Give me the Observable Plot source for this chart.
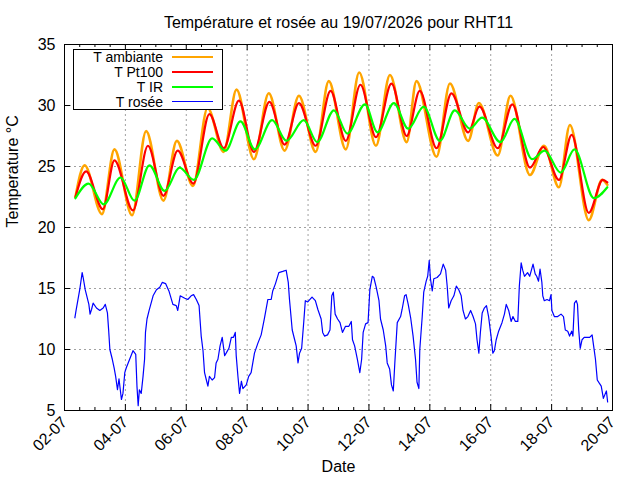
<!DOCTYPE html>
<html>
<head>
<meta charset="utf-8">
<script src="https://cdn.jsdelivr.net/npm/d3@7"></script>
<script src="https://cdn.jsdelivr.net/npm/@observablehq/plot@0.6"></script>
<style>
  body { margin: 0; background: #fff; }
  #wrap { position: relative; width: 640px; height: 480px; font-family: "Liberation Sans", Arial, sans-serif; }
  #legend { position: absolute; left: 73px; top: 49px; width: 148px; height: 59px; border: 1px solid #000; background: #fff; }
  .row { position: absolute; left: 0; height: 15px; width: 148px; }
  .row span { position: absolute; right: 59px; top: 0px; font-size: 14px; line-height: 15px; height: 15px; white-space: nowrap; color: #000; }
  .row i { position: absolute; left: 98px; width: 41px; top: 6px; }
</style>
</head>
<body>
<div id="wrap"></div>
<script>
// Day-of-month (July 2026, fractional) and temperature in °C
const tAmbiante = [[2.36,22.5],[2.66,25.1],[3.23,21.1],[3.64,26.4],[4.22,21.0],[4.68,27.9],[5.25,22.2],[5.69,27.1],[6.22,23.4],[6.70,29.8],[7.23,26.2],[7.65,31.3],[8.22,25.6],[8.71,31.0],[9.23,26.3],[9.70,30.8],[10.25,26.2],[10.68,32.0],[11.24,26.4],[11.68,32.7],[12.23,26.7],[12.69,32.5],[13.24,27.0],[13.56,32.0],[14.22,25.8],[14.66,31.8],[15.26,27.1],[15.61,30.2],[16.23,25.9],[16.65,30.8],[17.29,24.3],[17.75,26.7],[18.24,23.3],[18.60,28.4],[19.22,20.6],[19.66,23.9],[19.83,23.5]];
const tPt100 = [[2.36,22.5],[2.71,24.6],[3.26,21.5],[3.64,25.5],[4.25,21.4],[4.74,26.7],[5.25,22.6],[5.72,26.3],[6.23,23.6],[6.76,29.3],[7.23,26.5],[7.73,30.4],[8.22,26.2],[8.73,30.3],[9.23,26.8],[9.70,30.2],[10.25,26.7],[10.74,31.2],[11.24,27.1],[11.72,31.7],[12.23,27.4],[12.74,31.8],[13.24,27.5],[13.67,31.2],[14.22,26.5],[14.71,31.0],[15.26,27.8],[15.63,29.9],[16.23,26.5],[16.71,30.1],[17.29,24.9],[17.72,26.6],[18.24,23.9],[18.66,27.6],[19.22,21.2],[19.68,23.9],[19.83,23.7]];
const tIR = [[2.36,22.4],[2.79,23.6],[3.29,21.9],[3.84,24.1],[4.30,22.2],[4.79,25.1],[5.29,23.0],[5.78,24.9],[6.25,23.9],[6.85,27.3],[7.29,26.3],[7.78,28.7],[8.25,26.4],[8.82,28.8],[9.29,27.1],[9.86,28.8],[10.30,27.0],[10.85,29.6],[11.29,27.7],[11.87,30.1],[12.28,27.8],[12.82,30.2],[13.29,28.1],[13.80,29.9],[14.33,27.1],[14.82,29.6],[15.31,28.1],[15.72,29.0],[16.32,27.0],[16.78,28.9],[17.36,25.6],[17.77,26.3],[18.30,24.5],[18.75,26.4],[19.39,22.4],[19.83,23.3]];
const tRosee = [[2.34,12.6],[2.38,13.2],[2.5,14.9],[2.58,16.3],[2.62,15.8],[2.68,14.9],[2.8,13.7],[2.84,12.9],[2.89,13.3],[2.94,13.8],[3.05,13.4],[3.16,13.2],[3.27,13.4],[3.34,13.7],[3.41,13.0],[3.45,11.6],[3.49,10.0],[3.57,9.2],[3.63,8.5],[3.68,7.8],[3.74,6.7],[3.79,7.6],[3.87,5.9],[3.92,6.4],[3.98,8.1],[4.03,8.5],[4.14,9.2],[4.25,9.9],[4.34,9.6],[4.38,7.0],[4.42,5.4],[4.46,6.7],[4.52,6.4],[4.58,7.8],[4.63,9.2],[4.66,11.4],[4.71,12.5],[4.78,13.2],[4.91,14.4],[5.02,14.9],[5.13,15.1],[5.21,15.5],[5.32,15.4],[5.43,14.8],[5.56,13.7],[5.67,13.6],[5.72,13.2],[5.8,14.4],[5.95,14.2],[6.05,14.1],[6.16,14.4],[6.24,14.5],[6.33,14.1],[6.42,13.6],[6.49,11.1],[6.55,9.9],[6.6,8.1],[6.66,7.5],[6.71,7.0],[6.76,7.8],[6.85,7.5],[6.93,7.7],[6.98,8.9],[7.04,9.2],[7.11,10.3],[7.18,11.0],[7.26,9.5],[7.31,9.7],[7.4,10.1],[7.48,11.0],[7.55,11.0],[7.61,11.4],[7.64,9.5],[7.7,7.7],[7.75,6.4],[7.81,7.4],[7.86,6.8],[7.97,7.1],[8.05,7.8],[8.13,8.1],[8.24,9.7],[8.35,10.5],[8.46,11.2],[8.57,12.6],[8.68,14.1],[8.79,14.1],[8.84,14.8],[8.93,15.4],[9.04,16.3],[9.17,16.4],[9.28,16.5],[9.35,15.5],[9.39,14.1],[9.48,11.6],[9.56,10.8],[9.61,10.3],[9.67,8.9],[9.72,9.7],[9.79,10.1],[9.86,12.3],[9.91,14.0],[9.99,13.9],[10.13,14.3],[10.24,14.0],[10.32,13.3],[10.43,12.5],[10.48,11.4],[10.54,11.1],[10.64,11.2],[10.72,11.6],[10.78,14.4],[10.83,14.7],[10.89,12.9],[10.97,12.5],[11.05,12.2],[11.13,11.4],[11.23,11.9],[11.34,11.9],[11.42,12.3],[11.46,10.8],[11.53,10.3],[11.62,9.2],[11.7,8.1],[11.76,9.2],[11.81,11.4],[11.89,12.1],[11.97,12.2],[12.03,14.9],[12.11,16.0],[12.16,15.9],[12.24,15.1],[12.33,14.0],[12.38,12.5],[12.47,11.6],[12.55,10.3],[12.6,8.9],[12.68,8.4],[12.74,7.1],[12.8,6.6],[12.85,8.9],[12.93,12.2],[13.04,12.7],[13.09,13.3],[13.17,14.4],[13.22,14.5],[13.29,13.7],[13.37,12.6],[13.45,11.1],[13.53,9.2],[13.58,7.3],[13.64,6.8],[13.67,10.0],[13.75,12.7],[13.8,14.7],[13.88,15.6],[13.93,16.0],[13.98,17.3],[14.02,15.8],[14.08,14.8],[14.13,15.8],[14.24,15.9],[14.35,16.2],[14.44,17.0],[14.52,16.5],[14.57,15.2],[14.62,13.4],[14.7,14.0],[14.79,14.4],[14.87,15.2],[14.95,14.9],[15.03,14.4],[15.09,13.2],[15.17,12.5],[15.25,12.7],[15.34,13.2],[15.42,12.7],[15.5,12.1],[15.55,10.8],[15.61,9.7],[15.66,11.4],[15.72,13.0],[15.79,13.4],[15.86,13.6],[15.93,12.7],[16.01,11.1],[16.07,9.7],[16.12,9.9],[16.18,10.8],[16.26,11.5],[16.37,12.2],[16.45,12.9],[16.51,13.7],[16.59,13.2],[16.67,12.3],[16.73,12.7],[16.81,12.3],[16.89,12.3],[16.94,15.2],[17.0,17.1],[17.05,16.5],[17.11,16.0],[17.21,16.3],[17.28,16.0],[17.39,17.0],[17.46,16.2],[17.51,16.0],[17.57,15.6],[17.62,16.6],[17.68,15.5],[17.71,14.4],[17.76,14.0],[17.85,14.1],[17.93,14.0],[17.98,14.5],[18.01,13.2],[18.09,12.7],[18.2,12.7],[18.31,12.9],[18.39,12.7],[18.45,11.6],[18.53,11.5],[18.59,11.1],[18.66,11.5],[18.7,11.1],[18.75,13.8],[18.81,14.0],[18.85,13.7],[18.89,11.6],[18.94,10.1],[19.0,10.8],[19.07,11.0],[19.16,11.0],[19.25,11.0],[19.33,11.2],[19.38,10.3],[19.44,9.2],[19.5,7.5],[19.55,7.3],[19.63,7.0],[19.7,6.0],[19.75,6.3],[19.8,6.6],[19.84,5.7]];

const seriesNames = ["T ambiante", "T Pt100", "T IR", "T rosée"];
const xTickDays = [2, 4, 6, 8, 10, 12, 14, 16, 18, 20];
const yTicks = [5, 10, 15, 20, 25, 30, 35];
const titleText = "Température et rosée au 19/07/2026 pour RHT11";
const xLabel = "Date";
const yLabel = "Temperature °C";

const colors = ["#ffa500", "#ff0000", "#00ff00", "#0000ff"];
const xd = d => new Date(Date.UTC(2026, 6, 1) + (d - 1) * 864e5);
const minorDays = d3.range(2, 20.01, 0.5).filter(d => !xTickDays.includes(d));
const gridDays = xTickDays.slice(1, -1);
const gridTemps = yTicks.slice(1, -1);

const H = 480, mT = 44, mB = 70, mL = 64, mR = 28;
const fh = H - mT - mB, fw = 640 - mL - mR;
const grid = {stroke: "#a0a0a0", strokeWidth: 1, strokeDasharray: "2,3"};
const fmt = d3.utcFormat("%d-%m");

const chart = Plot.plot({
  width: 640, height: H,
  marginTop: mT, marginBottom: mB, marginLeft: mL, marginRight: mR,
  style: {fontFamily: "Liberation Sans, Arial, sans-serif", fontSize: "16px", color: "#000", background: "#fff"},
  x: {type: "utc", domain: [xd(2), xd(20)]},
  y: {domain: [5, 35]},
  marks: [
    Plot.ruleX(gridDays.map(xd), grid),
    Plot.ruleY(gridTemps, grid),
    Plot.line(tAmbiante, {x: d => xd(d[0]), y: d => d[1], stroke: colors[0], strokeWidth: 2.6, curve: "monotone-x"}),
    Plot.line(tPt100, {x: d => xd(d[0]), y: d => d[1], stroke: colors[1], strokeWidth: 2.2, curve: "monotone-x"}),
    Plot.line(tIR, {x: d => xd(d[0]), y: d => d[1], stroke: colors[2], strokeWidth: 2.2, curve: "monotone-x"}),
    Plot.line(tRosee, {x: d => xd(d[0]), y: d => d[1], stroke: colors[3], strokeWidth: 1.2}),
    Plot.frame({stroke: "#000", strokeWidth: 1}),
    // inward ticks, mirrored
    Plot.ruleX(xTickDays.map(xd), {stroke: "#000", insetTop: fh - 6}),
    Plot.ruleX(xTickDays.map(xd), {stroke: "#000", insetBottom: fh - 6}),
    Plot.ruleX(minorDays.map(xd), {stroke: "#000", insetTop: fh - 3}),
    Plot.ruleX(minorDays.map(xd), {stroke: "#000", insetBottom: fh - 3}),
    Plot.ruleY(yTicks, {stroke: "#000", insetRight: fw - 6}),
    Plot.ruleY(yTicks, {stroke: "#000", insetLeft: fw - 6}),
    Plot.axisY({ticks: yTicks, tickSize: 0, tickPadding: 9, label: null}),
    Plot.axisX({ticks: xTickDays.map(xd), tickSize: 0, tickPadding: 9, tickRotate: -45, tickFormat: fmt, label: null, fontSize: 16}),
    Plot.text([xLabel], {frameAnchor: "bottom", dy: 56, lineAnchor: "middle", fontSize: 16, fill: "#000"}),
    Plot.text([yLabel], {frameAnchor: "left", dx: -52, rotate: -90, lineAnchor: "middle", fontSize: 16, fill: "#000"}),
    Plot.text([titleText], {frameAnchor: "top", dy: -22, lineAnchor: "middle", fontSize: 16, fill: "#000"})
  ]
});

const wrap = document.getElementById("wrap");
wrap.appendChild(chart);
const legend = document.createElement("div");
legend.id = "legend";
seriesNames.forEach((name, i) => {
  const row = document.createElement("div");
  row.className = "row";
  row.style.top = (i * 15) + "px";
  const s = document.createElement("span");
  s.textContent = name;
  const ln = document.createElement("i");
  ln.style.borderTop = (i === 3 ? 1.5 : 2.5) + "px solid " + colors[i];
  row.appendChild(s); row.appendChild(ln);
  legend.appendChild(row);
});
wrap.appendChild(legend);
</script>
</body>
</html>
